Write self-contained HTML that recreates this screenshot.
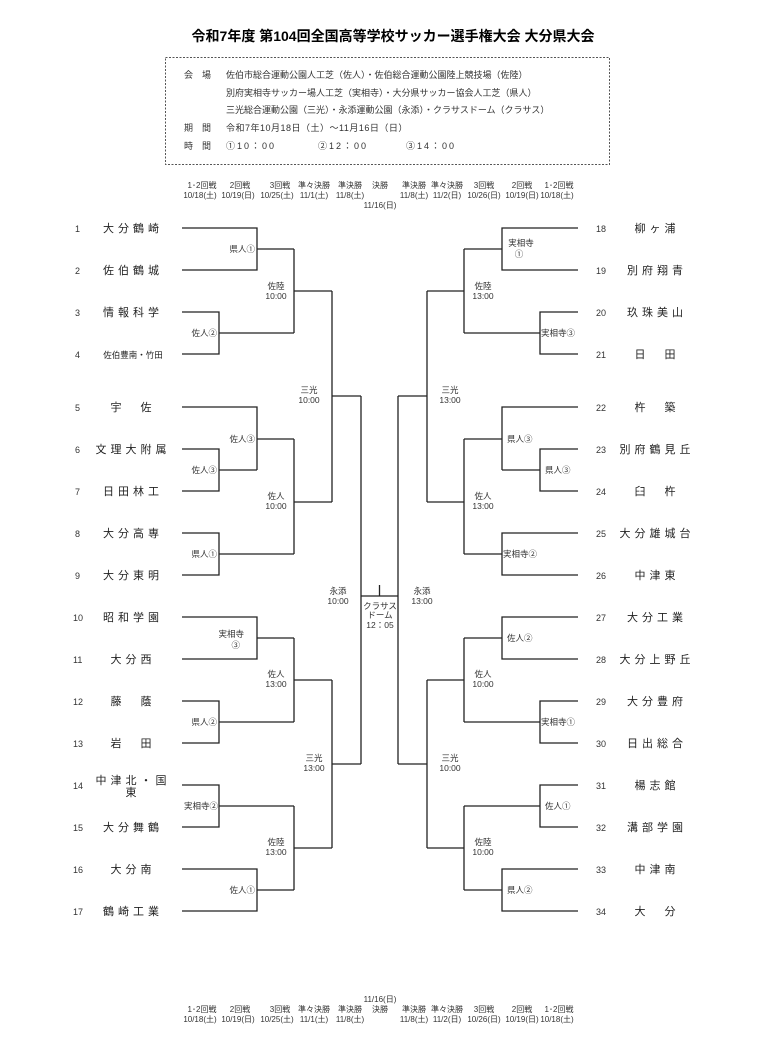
<!DOCTYPE html>
<html><head><meta charset="utf-8"><style>
html,body{margin:0;padding:0;background:#fff;}
svg{display:block;font-family:"Liberation Sans","Noto Sans CJK JP",sans-serif;}
.t{font-size:11px;fill:#222;letter-spacing:4px;}
.n{font-size:9px;fill:#333;}
.l{font-size:8.5px;fill:#333;}
.h{font-size:8px;fill:#333;}
.b{font-size:9px;fill:#333;}
</style></head><body>
<svg width="763" height="1057" viewBox="0 0 763 1057" xmlns="http://www.w3.org/2000/svg">
<text x="393" y="41" text-anchor="middle" font-size="14" font-weight="bold" fill="#000">令和7年度 第104回全国高等学校サッカー選手権大会 大分県大会</text>
<rect x="165.5" y="57.5" width="444" height="107" fill="none" stroke="#555" stroke-dasharray="2,1.5"/>
<g class="b">
<text x="184" y="78">会　場</text><text x="226" y="78">佐伯市総合運動公園人工芝（佐人）・佐伯総合運動公園陸上競技場（佐陸）</text>
<text x="226" y="96">別府実相寺サッカー場人工芝（実相寺）・大分県サッカー協会人工芝（県人）</text>
<text x="226" y="113">三光総合運動公園（三光）・永添運動公園（永添）・クラサスドーム（クラサス）</text>
<text x="184" y="131">期　間</text><text x="226" y="131" letter-spacing="0.5">令和7年10月18日（土）～11月16日（日）</text>
<text x="184" y="149">時　間</text><text x="226" y="149" letter-spacing="2">①10：00</text><text x="318" y="149" letter-spacing="2">②12：00</text><text x="406" y="149" letter-spacing="2">③14：00</text>
</g>
<g class="h" text-anchor="middle">
<text x="202" y="188">1･2回戦</text><text x="240" y="188">2回戦</text><text x="280" y="188">3回戦</text><text x="314" y="188">準々決勝</text><text x="350" y="188">準決勝</text><text x="380" y="188">決勝</text><text x="414" y="188">準決勝</text><text x="447" y="188">準々決勝</text><text x="484" y="188">3回戦</text><text x="522" y="188">2回戦</text><text x="559" y="188">1･2回戦</text>
<text x="200" y="198">10/18(土)</text><text x="238" y="198">10/19(日)</text><text x="277" y="198">10/25(土)</text><text x="314" y="198">11/1(土)</text><text x="350" y="198">11/8(土)</text><text x="414" y="198">11/8(土)</text><text x="447" y="198">11/2(日)</text><text x="484" y="198">10/26(日)</text><text x="522" y="198">10/19(日)</text><text x="557" y="198">10/18(土)</text>
<text x="380" y="208">11/16(日)</text>
<text x="380" y="1002">11/16(日)</text>
<text x="202" y="1012">1･2回戦</text><text x="240" y="1012">2回戦</text><text x="280" y="1012">3回戦</text><text x="314" y="1012">準々決勝</text><text x="350" y="1012">準決勝</text><text x="380" y="1012">決勝</text><text x="414" y="1012">準決勝</text><text x="447" y="1012">準々決勝</text><text x="484" y="1012">3回戦</text><text x="522" y="1012">2回戦</text><text x="559" y="1012">1･2回戦</text>
<text x="200" y="1022">10/18(土)</text><text x="238" y="1022">10/19(日)</text><text x="277" y="1022">10/25(土)</text><text x="314" y="1022">11/1(土)</text><text x="350" y="1022">11/8(土)</text><text x="414" y="1022">11/8(土)</text><text x="447" y="1022">11/2(日)</text><text x="484" y="1022">10/26(日)</text><text x="522" y="1022">10/19(日)</text><text x="557" y="1022">10/18(土)</text>
</g>
<g stroke="#222" stroke-width="1.3" fill="none">
<path d="M182 228H257V270H182M257 249H294"/>
<path d="M182 312H219V354H182M219 333H294"/>
<path d="M294 249V333M294 291H332"/>
<path d="M182 407H257V470M182 449H219V491H182M219 470H257M257 439H294"/>
<path d="M182 533H219V575H182M219 554H294"/>
<path d="M294 439V554M294 502H332"/>
<path d="M332 291V502M332 396H361"/>
<path d="M182 617H257V659H182M257 638H294"/>
<path d="M182 701H219V743H182M219 722H294"/>
<path d="M294 638V722M294 680H332"/>
<path d="M182 785H219V827H182M219 806H294"/>
<path d="M182 869H257V911H182M257 890H294"/>
<path d="M294 806V890M294 848H332"/>
<path d="M332 680V848M332 764H361"/>
<path d="M361 396V764"/>
<path d="M578 228H502V270H578M502 249H464"/>
<path d="M578 312H540V354H578M540 333H464"/>
<path d="M464 249V333M464 291H427"/>
<path d="M578 407H502V470M578 449H540V491H578M540 470H502M502 439H464"/>
<path d="M578 533H502V575H578M502 554H464"/>
<path d="M464 439V554M464 502H427"/>
<path d="M427 291V502M427 396H398"/>
<path d="M578 617H502V659H578M502 638H464"/>
<path d="M578 701H540V743H578M540 722H464"/>
<path d="M464 638V722M464 680H427"/>
<path d="M578 785H540V827H578M540 806H464"/>
<path d="M578 869H502V911H578M502 890H464"/>
<path d="M464 806V890M464 848H427"/>
<path d="M427 680V848M427 764H398"/>
<path d="M398 396V764"/>
<path d="M361 596H398M379.5 585V596"/>
</g>
<g class="n">
<text x="75" y="232">1</text><text x="75" y="274">2</text><text x="75" y="316">3</text><text x="75" y="358">4</text><text x="75" y="411">5</text><text x="75" y="453">6</text><text x="75" y="495">7</text><text x="75" y="537">8</text><text x="75" y="579">9</text><text x="73" y="621">10</text><text x="73" y="663">11</text><text x="73" y="705">12</text><text x="73" y="747">13</text><text x="73" y="789">14</text><text x="73" y="831">15</text><text x="73" y="873">16</text><text x="73" y="915">17</text>
<text x="596" y="232">18</text><text x="596" y="274">19</text><text x="596" y="316">20</text><text x="596" y="358">21</text><text x="596" y="411">22</text><text x="596" y="453">23</text><text x="596" y="495">24</text><text x="596" y="537">25</text><text x="596" y="579">26</text><text x="596" y="621">27</text><text x="596" y="663">28</text><text x="596" y="705">29</text><text x="596" y="747">30</text><text x="596" y="789">31</text><text x="596" y="831">32</text><text x="596" y="873">33</text><text x="596" y="915">34</text>
</g>
<g class="t" text-anchor="middle">
<text x="133" y="232">大分鶴崎</text><text x="133" y="274">佐伯鶴城</text><text x="133" y="316">情報科学</text>
<text x="133" y="358" style="font-size:8.5px;letter-spacing:0">佐伯豊南・竹田</text>
<text x="133" y="411">宇　佐</text><text x="133" y="453">文理大附属</text><text x="133" y="495">日田林工</text><text x="133" y="537">大分高専</text><text x="133" y="579">大分東明</text><text x="133" y="621">昭和学園</text><text x="133" y="663">大分西</text><text x="133" y="705">藤　蔭</text><text x="133" y="747">岩　田</text>
<text x="133" y="784">中津北・国</text><text x="133" y="796">東</text>
<text x="133" y="831">大分舞鶴</text><text x="133" y="873">大分南</text><text x="133" y="915">鶴崎工業</text>
<text x="657" y="232">柳ヶ浦</text><text x="657" y="274">別府翔青</text><text x="657" y="316">玖珠美山</text><text x="657" y="358">日　田</text><text x="657" y="411">杵　築</text><text x="657" y="453">別府鶴見丘</text><text x="657" y="495">臼　杵</text><text x="657" y="537">大分雄城台</text><text x="657" y="579">中津東</text><text x="657" y="621">大分工業</text><text x="657" y="663">大分上野丘</text><text x="657" y="705">大分豊府</text><text x="657" y="747">日出総合</text><text x="657" y="789">楊志館</text><text x="657" y="831">溝部学園</text><text x="657" y="873">中津南</text><text x="657" y="915">大　分</text>
</g>
<g class="l" text-anchor="end">
<text x="255" y="252">県人①</text><text x="217" y="336">佐人②</text><text x="255" y="442">佐人③</text><text x="217" y="473">佐人③</text><text x="217" y="557">県人①</text>
<text x="244" y="637">実相寺</text><text x="240" y="648">③</text>
<text x="217" y="725">県人②</text><text x="218" y="809">実相寺②</text><text x="255" y="893">佐人①</text>
</g>
<g class="l" text-anchor="middle">
<text x="276" y="289">佐陸</text><text x="276" y="299">10:00</text>
<text x="276" y="499">佐人</text><text x="276" y="509">10:00</text>
<text x="276" y="677">佐人</text><text x="276" y="687">13:00</text>
<text x="276" y="845">佐陸</text><text x="276" y="855">13:00</text>
<text x="309" y="393">三光</text><text x="309" y="403">10:00</text>
<text x="314" y="761">三光</text><text x="314" y="771">13:00</text>
<text x="338" y="594">永添</text><text x="338" y="604">10:00</text>
<text x="422" y="594">永添</text><text x="422" y="604">13:00</text>
<text x="380" y="609">クラサス</text><text x="380" y="618">ドーム</text><text x="380" y="628">12：05</text>
<text x="450" y="393">三光</text><text x="450" y="403">13:00</text>
<text x="450" y="761">三光</text><text x="450" y="771">10:00</text>
<text x="483" y="289">佐陸</text><text x="483" y="299">13:00</text>
<text x="483" y="499">佐人</text><text x="483" y="509">13:00</text>
<text x="483" y="677">佐人</text><text x="483" y="687">10:00</text>
<text x="483" y="845">佐陸</text><text x="483" y="855">10:00</text>
<text x="521" y="246">実相寺</text><text x="519" y="257">①</text>
</g>
<g class="l">
<text x="541" y="336">実相寺③</text>
<text x="507" y="442">県人③</text><text x="545" y="473">県人③</text>
<text x="503" y="557">実相寺②</text>
<text x="507" y="641">佐人②</text><text x="541" y="725">実相寺①</text>
<text x="545" y="809">佐人①</text><text x="507" y="893">県人②</text>
</g>
</svg>
</body></html>
